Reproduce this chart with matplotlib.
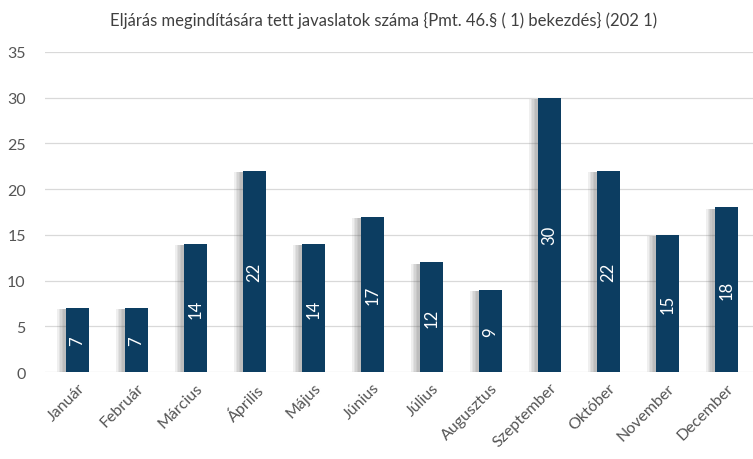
import numpy as np
import matplotlib.pyplot as plt
import matplotlib.patheffects as pe

months = ['Január', 'Február', 'Március', 'Április', 'Május', 'Június',
          'Július', 'Augusztus', 'Szeptember', 'Október', 'November', 'December']
values = [7, 7, 14, 22, 14, 17, 12, 9, 30, 22, 15, 18]

plt.rcParams['font.family'] = ['Lato', 'DejaVu Sans']

fig = plt.figure(figsize=(7.53, 4.6), dpi=100)
ax = fig.add_axes([0.06, 0.189, 0.94, 0.696])

x = np.arange(len(months))
bars = ax.bar(x, values, width=0.4, color='#0c3d61', zorder=3)

# soft shadow on the left side, a few stacked offsets fake the blur
shadow = [pe.SimplePatchShadow(offset=(-d, -1), shadow_rgbFace='#555555', alpha=0.09)
          for d in (6, 5, 4, 3, 2)]
for b in bars:
    b.set_path_effects(shadow + [pe.Normal()])

for xi, v in zip(x, values):
    ax.text(xi, v / 2, str(v), rotation=90, ha='center', va='center',
            color='white', fontsize=12, zorder=4)

ax.set_ylim(0, 35)
ax.set_yticks(range(0, 36, 5))
ax.set_xlim(-0.55, 11.45)
ax.set_xticks(x)
ax.set_xticklabels(months, rotation=45, ha='right', rotation_mode='anchor')
ax.tick_params(axis='both', length=0, labelsize=11.5, colors='#555555')
ax.tick_params(axis='y', pad=14)
ax.tick_params(axis='x', pad=6)
ax.grid(axis='y', color='#d9d9d9', linewidth=0.9, zorder=0)
for s in ax.spines.values():
    s.set_visible(False)

fig.text(0.51, 0.955, 'Eljárás megindítására tett javaslatok száma {Pmt. 46.§ ( 1) bekezdés} (202 1)',
         ha='center', va='center', fontsize=12, color='#404040')

fig.savefig('out.png', dpi=100)
